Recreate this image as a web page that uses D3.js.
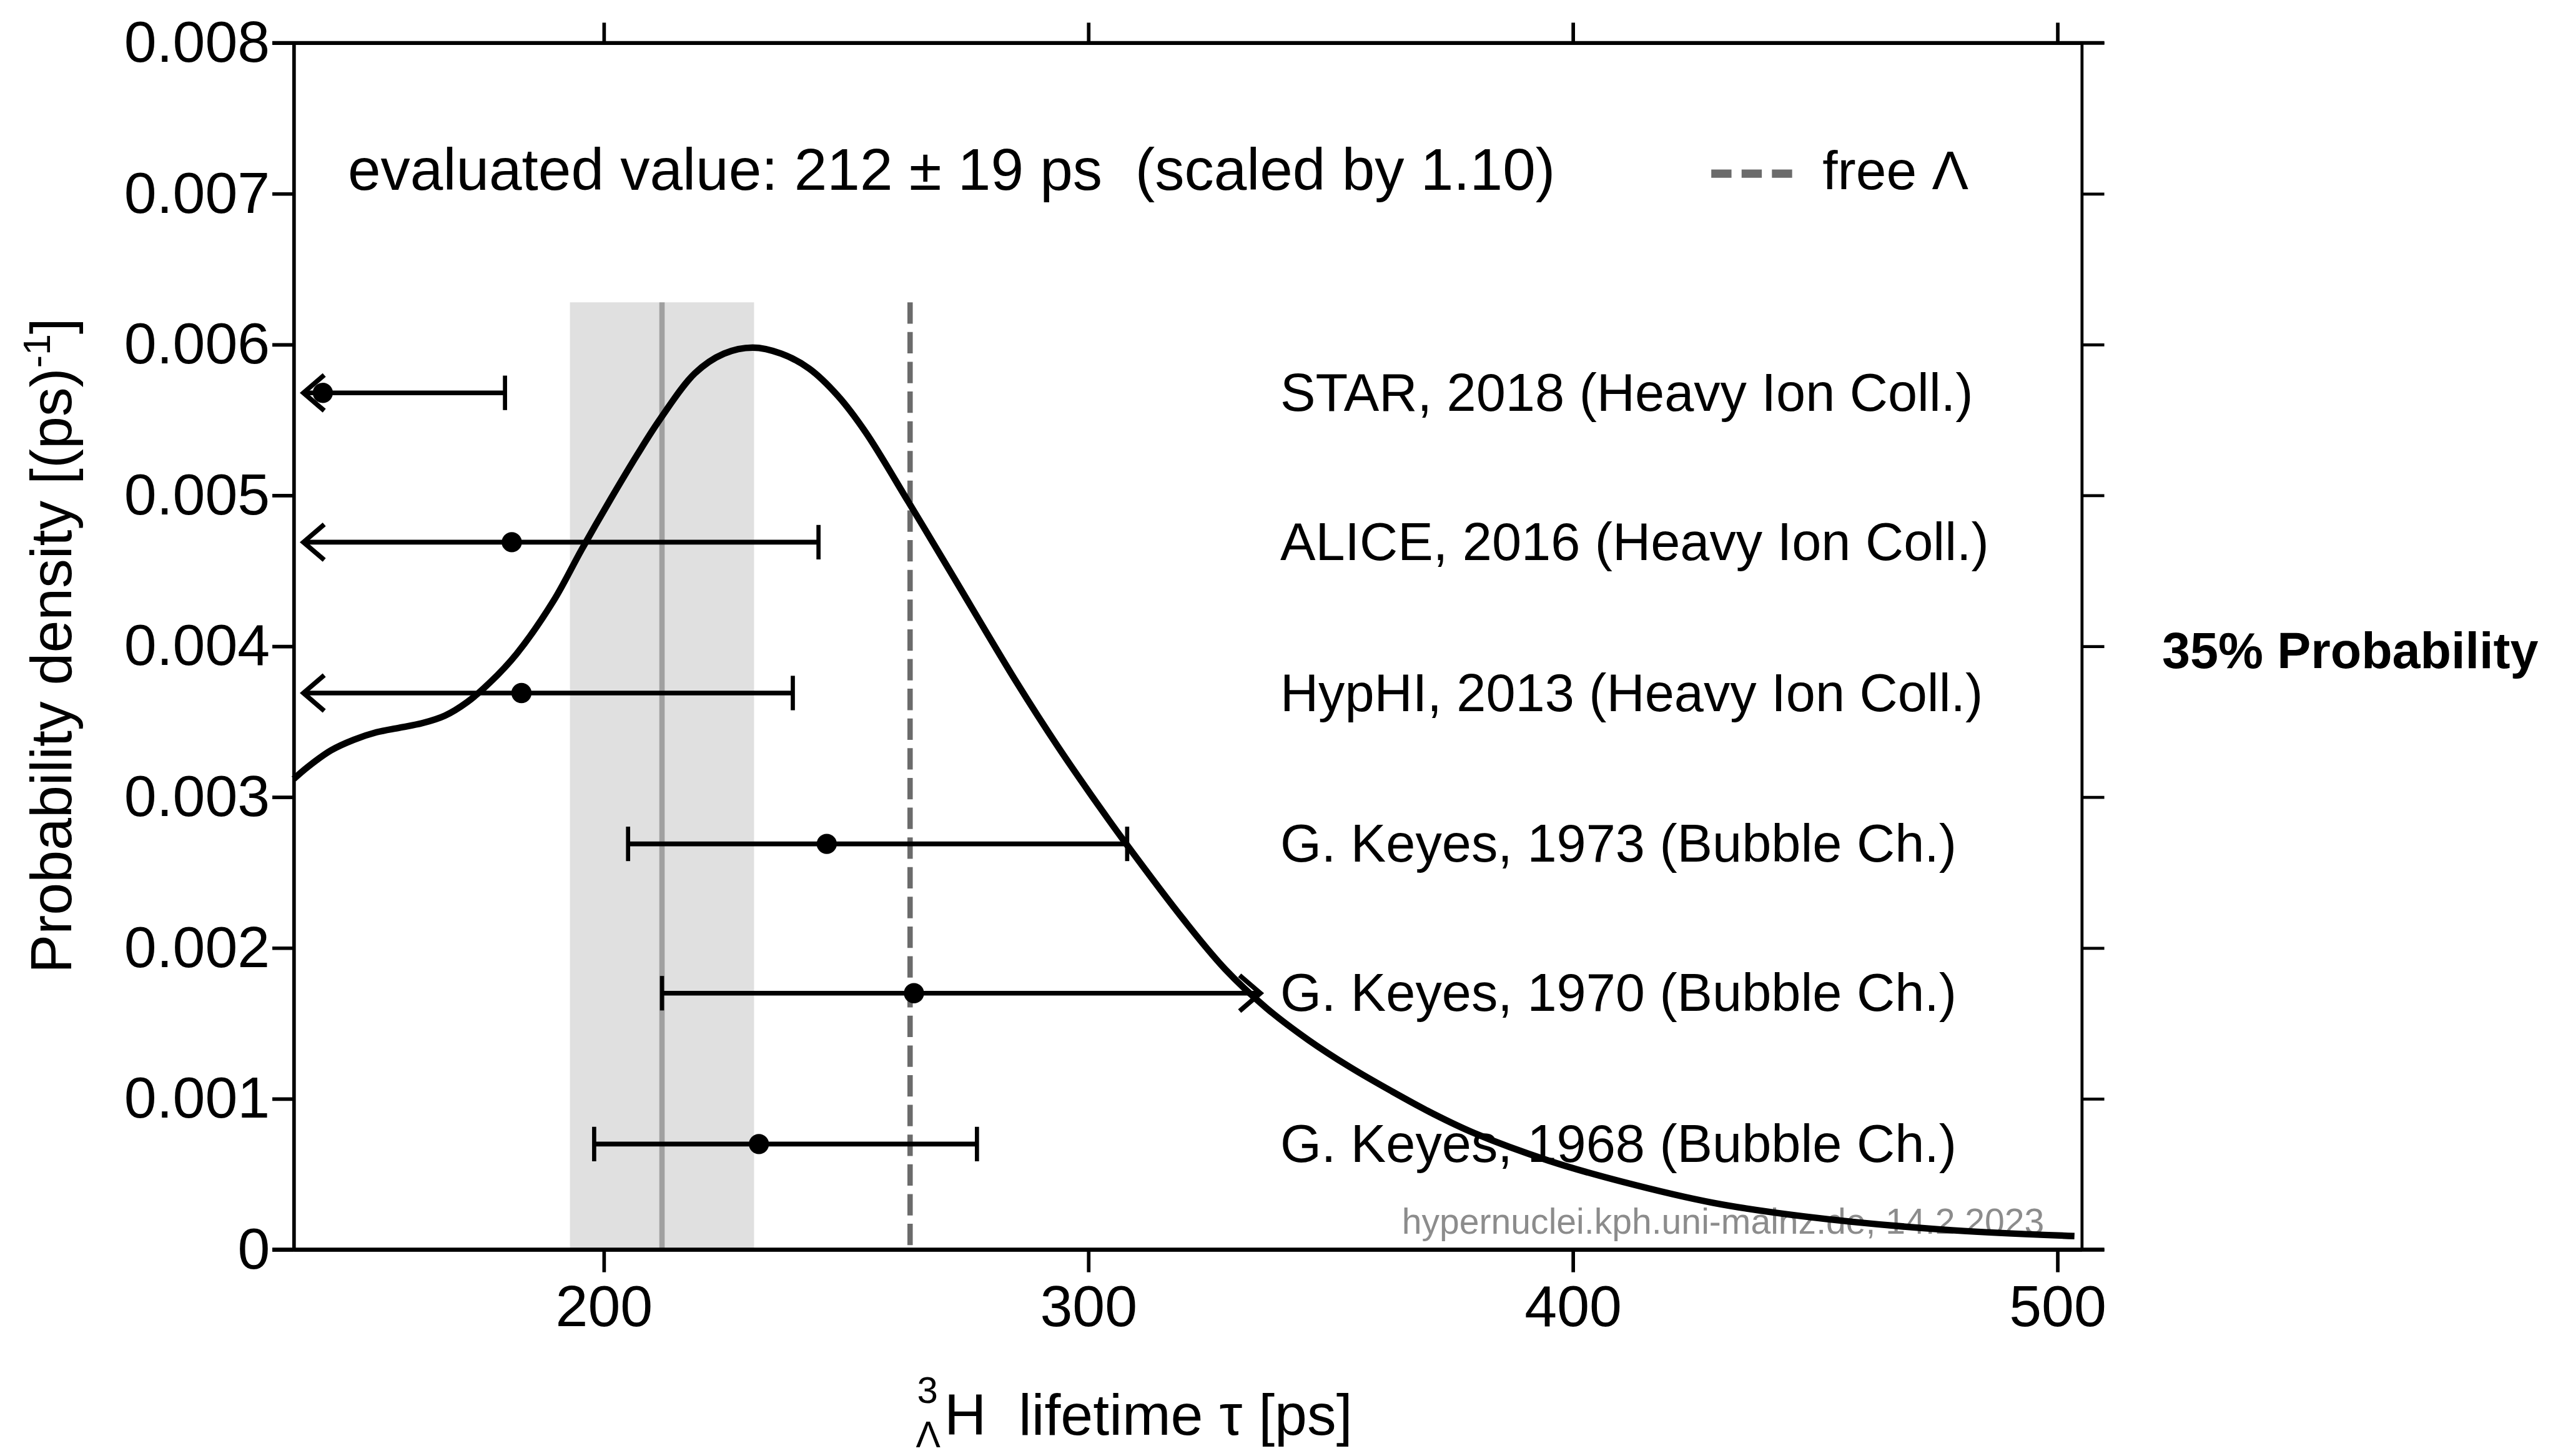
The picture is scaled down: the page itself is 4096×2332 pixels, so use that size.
<!DOCTYPE html>
<html>
<head>
<meta charset="utf-8">
<script src="https://cdn.jsdelivr.net/npm/d3@7"></script>
<style>
  html, body { margin: 0; padding: 0; background: #fff; }
  svg { display: block; }
  text { font-family: "Liberation Sans", Arial, Helvetica, sans-serif; }
</style>
</head>
<body>
<svg id="chart" width="4096" height="2332" viewBox="0 0 4302 2449"></svg>
<script>
// ---------------- data ----------------
// probability density curve
const curveTau = [136, 138.9, 143.7, 148.4, 153.1, 157.8, 162.5, 167.2, 171.8, 176.5,
  182, 189.6, 195.4, 201.3, 206.9, 211.7, 218.8, 224.8, 230.7, 236.6,
  242.4, 248.3, 254, 262.8, 271.4, 285.2, 293.8, 302.4, 307.8, 319.6,
  328.2, 336.8, 345.4, 354, 362.6, 371.2, 379.8, 395, 410.2, 429,
  447.8, 475.9, 503.5];
const curveDensity = [0.00312, 0.0032, 0.00331, 0.00338, 0.00343, 0.00346, 0.00349, 0.00354, 0.00363, 0.00376,
  0.00395, 0.0043, 0.00464, 0.00497, 0.00527, 0.00551, 0.00581, 0.00594, 0.00598, 0.00594,
  0.00584, 0.00566, 0.00542, 0.00496, 0.0045, 0.00376, 0.00333, 0.00293, 0.00269, 0.00219,
  0.00186, 0.0016, 0.00139, 0.00121, 0.00105, 0.0009, 0.00077, 0.00059, 0.00045, 0.00031,
  0.00022, 0.000134, 0.00009];

// measurements
const measLabels = ["STAR, 2018 (Heavy Ion Coll.)", "ALICE, 2016 (Heavy Ion Coll.)",
  "HypHI, 2013 (Heavy Ion Coll.)", "G. Keyes, 1973 (Bubble Ch.)",
  "G. Keyes, 1970 (Bubble Ch.)", "G. Keyes, 1968 (Bubble Ch.)"];
const measValue = [142, 181, 183, 246, 264, 232];
const measErrLow = [35.8, 51.1, 48.9, 41, 52, 34];
const measErrHigh = [37.6, 63.3, 56.0, 62, 84, 45];
const measRow = [0.00568, 0.00469, 0.00369, 0.00269, 0.0017, 0.0007];

// evaluated value and free Lambda
const evalValue = 212, evalErr = 19;
const freeLambda = 263.2;
const bandTop = 0.00628;
const barClip = [138, 335.5];

// axes
const xDomain = [136, 505];
const yDomain = [0, 0.008];
const xTicks = [200, 300, 400, 500];
const yTicks = [0, 0.001, 0.002, 0.003, 0.004, 0.005, 0.006, 0.007, 0.008];
const yTickLabels = ["0", "0.001", "0.002", "0.003", "0.004", "0.005", "0.006", "0.007", "0.008"];

// ---------------- drawing ----------------
const svg = d3.select("#chart");
const L = 494, R = 3501, T = 72, B = 2102;
const x = d3.scaleLinear().domain(xDomain).range([L, R]);
const y = d3.scaleLinear().domain(yDomain).range([B, T]);
const FONT = '"Liberation Sans", Arial, Helvetica, sans-serif';

// band + center line
svg.append("rect")
  .attr("x", x(evalValue - evalErr)).attr("y", y(bandTop))
  .attr("width", x(evalValue + evalErr) - x(evalValue - evalErr))
  .attr("height", y(0) - y(bandTop))
  .attr("fill", "#e0e0e0");
svg.append("line")
  .attr("x1", x(evalValue)).attr("x2", x(evalValue))
  .attr("y1", y(bandTop)).attr("y2", y(0))
  .attr("stroke", "#a0a0a0").attr("stroke-width", 9);

// free Lambda dashed line
svg.append("line")
  .attr("x1", x(freeLambda)).attr("x2", x(freeLambda))
  .attr("y1", y(bandTop)).attr("y2", y(0))
  .attr("stroke", "#6b6b6b").attr("stroke-width", 9)
  .attr("stroke-dasharray", "36,14");

// labels for measurements
svg.append("g").selectAll("text").data(measLabels).join("text")
  .attr("x", 2153).attr("y", (d, i) => y(measRow[i]) + 30)
  .attr("font-size", 89).attr("fill", "#000")
  .text(d => d);

// watermark
svg.append("text")
  .attr("x", 3438).attr("y", 2075).attr("text-anchor", "end")
  .attr("font-size", 60).attr("fill", "#8c8c8c")
  .text("hypernuclei.kph.uni-mainz.de, 14.2.2023");

// error bars
const eb = svg.append("g").attr("stroke", "#000").attr("fill", "none").attr("stroke-width", 8);
measValue.forEach((v, i) => {
  const yy = y(measRow[i]);
  const lo = v - measErrLow[i], hi = v + measErrHigh[i];
  const loC = Math.max(lo, barClip[0]), hiC = Math.min(hi, barClip[1]);
  eb.append("line").attr("x1", x(loC)).attr("x2", x(hiC)).attr("y1", yy).attr("y2", yy);
  if (lo < barClip[0]) {
    const xt = x(loC);
    eb.append("polyline").attr("points", `${xt + 35},${yy - 30} ${xt},${yy} ${xt + 35},${yy + 30}`);
  } else {
    eb.append("line").attr("x1", x(lo)).attr("x2", x(lo)).attr("y1", yy - 29).attr("y2", yy + 29)
      .attr("stroke-width", 7);
  }
  if (hi > barClip[1]) {
    const xt = x(hiC);
    eb.append("polyline").attr("points", `${xt - 35},${yy - 30} ${xt},${yy} ${xt - 35},${yy + 30}`);
  } else {
    eb.append("line").attr("x1", x(hi)).attr("x2", x(hi)).attr("y1", yy - 29).attr("y2", yy + 29)
      .attr("stroke-width", 7);
  }
  svg.append("circle").attr("cx", x(v)).attr("cy", yy).attr("r", 17).attr("fill", "#000");
});

// curve
const pts = curveTau.map((t, i) => [t, curveDensity[i]]);
svg.append("path")
  .attr("d", d3.line().x(d => x(d[0])).y(d => y(d[1])).curve(d3.curveCatmullRom.alpha(0.5))(pts))
  .attr("fill", "none").attr("stroke", "#000").attr("stroke-width", 11)
  .attr("stroke-linejoin", "round");

// axes
function styleAxis(g, w) {
  g.selectAll("path, line").attr("stroke", "#000").attr("stroke-width", w);
  g.selectAll("text").attr("font-family", FONT).attr("font-size", 98).attr("fill", "#000");
}
const gl = svg.append("g").attr("transform", `translate(${L},0)`)
  .call(d3.axisLeft(y).tickValues(yTicks).tickSize(36).tickSizeOuter(0).tickPadding(4)
    .tickFormat((d, i) => yTickLabels[i]));
styleAxis(gl, 6);
const gb = svg.append("g").attr("transform", `translate(0,${B})`)
  .call(d3.axisBottom(x).tickValues(xTicks).tickSize(38).tickSizeOuter(0).tickPadding(21)
    .tickFormat(d3.format("d")));
styleAxis(gb, 6);
const gt = svg.append("g").attr("transform", `translate(0,${T})`)
  .call(d3.axisTop(x).tickValues(xTicks).tickSize(34).tickSizeOuter(0).tickFormat(""));
styleAxis(gt, 6);
const gr = svg.append("g").attr("transform", `translate(${R},0)`)
  .call(d3.axisRight(y).tickValues(yTicks).tickSize(38).tickSizeOuter(0).tickFormat(""));
styleAxis(gr, 5);
// extend bottom/top lines to the outer ticks
svg.append("line").attr("x1", L - 36).attr("x2", R + 38).attr("y1", B).attr("y2", B)
  .attr("stroke", "#000").attr("stroke-width", 7);
svg.append("line").attr("x1", L - 36).attr("x2", R + 38).attr("y1", T).attr("y2", T)
  .attr("stroke", "#000").attr("stroke-width", 6);

// y axis title
const yt = svg.append("text")
  .attr("transform", "translate(120,1086) rotate(-90)")
  .attr("text-anchor", "middle").attr("font-size", 98).attr("fill", "#000");
yt.append("tspan").text("Probability density [(ps)");
yt.append("tspan").attr("font-size", 64).attr("dy", -36).text("-1");
yt.append("tspan").attr("dy", 36).text("]");

// x axis title
svg.append("text").attr("x", 1560).attr("y", 2360).attr("text-anchor", "middle")
  .attr("font-size", 63).text("3");
svg.append("text").attr("x", 1561).attr("y", 2434).attr("text-anchor", "middle")
  .attr("font-size", 62).text("\u039B");
svg.append("text").attr("x", 1588).attr("y", 2413).attr("font-size", 98).text("H");
svg.append("text").attr("x", 1713).attr("y", 2413).attr("font-size", 98).text("lifetime \u03C4 [ps]");

// evaluated value text
svg.append("text").attr("x", 585).attr("y", 319).attr("font-size", 99.3)
  .text("evaluated value: 212 \u00B1 19 ps \u00A0(scaled by 1.10)");

// legend
svg.append("line").attr("x1", 2878).attr("x2", 3014).attr("y1", 292).attr("y2", 292)
  .attr("stroke", "#6b6b6b").attr("stroke-width", 14).attr("stroke-dasharray", "34,17");
svg.append("text").attr("x", 3065).attr("y", 318).attr("font-size", 92).text("free \u039B");

// side note
svg.append("text").attr("x", 3636).attr("y", 1124).attr("font-size", 85)
  .attr("font-weight", "bold").text("35% Probability");
</script>
</body>
</html>
